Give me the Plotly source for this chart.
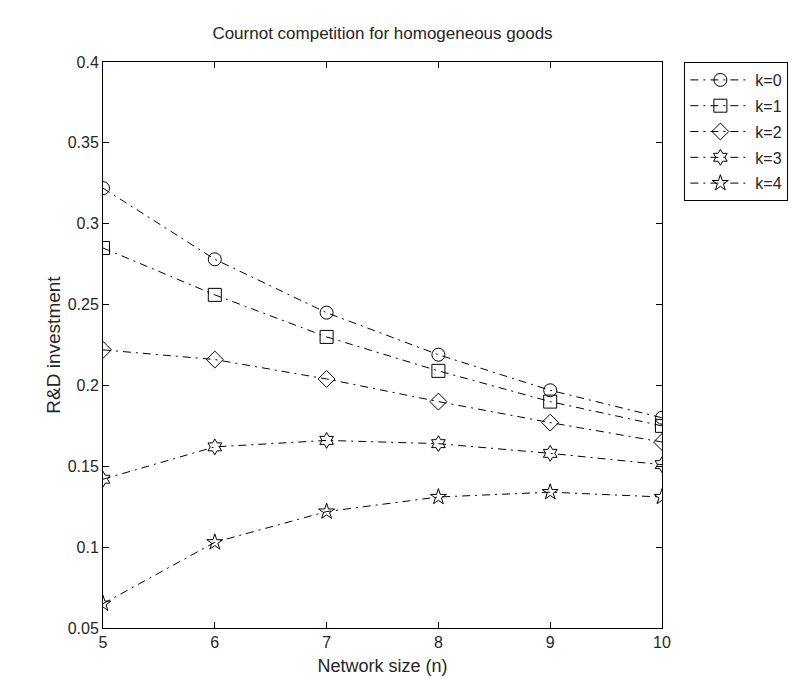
import plotly.graph_objects as go

n_values = [5, 6, 7, 8, 9, 10]
series_names = ["k=0", "k=1", "k=2", "k=3", "k=4"]
k0 = [0.322, 0.278, 0.245, 0.219, 0.197, 0.180]
k1 = [0.285, 0.256, 0.230, 0.209, 0.190, 0.175]
k2 = [0.222, 0.216, 0.204, 0.190, 0.177, 0.165]
k3 = [0.142, 0.162, 0.166, 0.164, 0.158, 0.151]
k4 = [0.065, 0.103, 0.122, 0.131, 0.134, 0.131]
y_ticks = [0.05, 0.1, 0.15, 0.2, 0.25, 0.3, 0.35, 0.4]
y_tick_labels = ["0.05", "0.1", "0.15", "0.2", "0.25", "0.3", "0.35", "0.4"]
x_ticks = [5, 6, 7, 8, 9, 10]

all_series = [k0, k1, k2, k3, k4]
symbols = ["circle-open", "square-open", "diamond-open", "hexagram-open", "star-open"]
sizes = [13, 13, 13, 12, 12]

FONT = "Liberation Sans, Arial, sans-serif"
TXT = "#262626"

fig = go.Figure()
for name, vals, sym, sz in zip(series_names, all_series, symbols, sizes):
    fig.add_trace(go.Scatter(
        x=n_values, y=vals, name=name, mode="lines+markers", legendgroup=name,
        line=dict(color="black", width=1, dash="8px,5px,2px,5px"),
        marker=dict(symbol=sym, size=sz, color="black", line=dict(width=1, color="black")),
    ))

axis_common = dict(
    showline=True, linecolor="black", linewidth=1, mirror="ticks",
    ticks="inside", ticklen=6, tickcolor="black", showgrid=False, zeroline=False,
    tickfont=dict(family=FONT, size=16, color=TXT),
)

fig.update_layout(
    width=803, height=684,
    paper_bgcolor="white", plot_bgcolor="white",
    margin=dict(l=95, r=149, t=54, b=64, autoexpand=False),
    font=dict(family=FONT, size=16, color=TXT),
    title=dict(text="Cournot competition for homogeneous goods", xref="paper", x=0.5,
               xanchor="center", yref="container", y=0.963, yanchor="middle",
               font=dict(family=FONT, size=17, color=TXT)),
    xaxis=dict(range=[5, 10], tickvals=x_ticks, ticktext=[str(v) for v in x_ticks],
               title=dict(text="Network size (n)", font=dict(family=FONT, size=18, color=TXT),
                          standoff=9),
               **axis_common),
    yaxis=dict(range=[0.05, 0.4], tickvals=y_ticks, ticktext=y_tick_labels,
               title=dict(text="R&D investment", font=dict(family=FONT, size=19, color=TXT),
                          standoff=2),
               **axis_common),
    legend=dict(x=1.04, y=1.0, xanchor="left", yanchor="top",
                bordercolor="black", borderwidth=1, bgcolor="white",
                font=dict(family=FONT, size=16, color=TXT),
                itemwidth=60, tracegroupgap=2),
    showlegend=True,
)

fig.write_html("out.html")
